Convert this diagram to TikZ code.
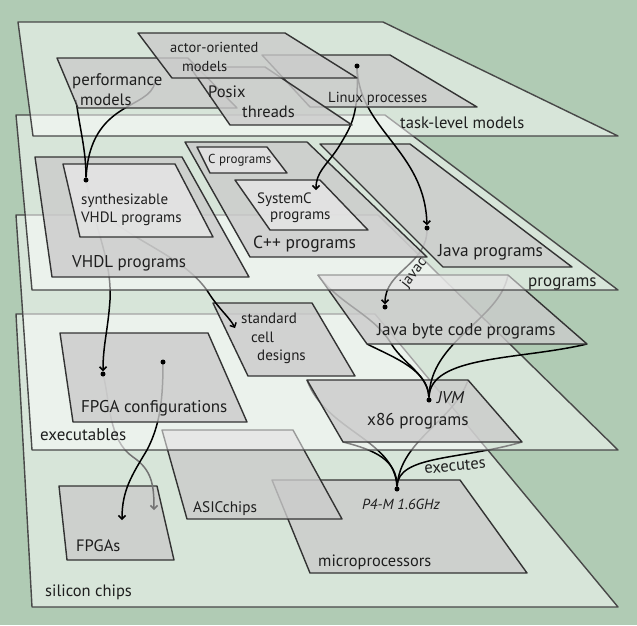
\documentclass[tikz,border=0pt]{standalone}
\usepackage{fontspec}
\setmainfont{PT Sans}
\usetikzlibrary{arrows.meta}
\definecolor{bgc}{HTML}{B0CBB4}
\definecolor{planeline}{HTML}{484848}
\definecolor{itemline}{HTML}{333333}
\definecolor{itemgray}{HTML}{CBCBCB}
\definecolor{subgray}{HTML}{E6E6E6}
\definecolor{txt}{HTML}{1E1E1E}
\newcommand\fsz[1]{\fontsize{#1}{#1}\selectfont}
\begin{document}
\begin{tikzpicture}[x=1pt,y=-1pt,
 plane/.style={fill=white,fill opacity=0.5,draw=planeline,line width=1.4pt,line join=round},
 item/.style={fill=itemgray,fill opacity=0.8,draw=itemline,line width=1.4pt,line join=round},
 subitem/.style={item,fill=subgray},
 conn/.style={line width=1.5pt,draw=black},
 arr/.style={-{Straight Barb[length=3.5pt,width=7pt]}},
 dot/.style={circle,fill=black,inner sep=0pt,minimum size=5pt},
 lbl/.style={anchor=base west,inner sep=0pt,text=txt},
]
\fill[bgc] (0,0) rectangle (637,625);
\useasboundingbox (0,0) rectangle (637,625);

% ---------- silicon chips layer
\draw[plane] (16,314) -- (375,314) -- (618,607) -- (32,607) -- cycle;
\draw[item] (59,486) -- (157,486) -- (174,560) -- (67,560) -- cycle;
\draw[item] (272,480) -- (460,480) -- (527,573) -- (310,573) -- cycle;
\draw[item] (162,430) -- (293,430) -- (342,519) -- (187,519) -- cycle;
\coordinate (fpgaA) at (122,520);
\coordinate (fpgaB) at (154,510);
\coordinate (F1c) at (103,374);
\coordinate (D2c) at (163,362);
\coordinate (xTL) at (307,380);
\coordinate (xTR) at (468,380);
\coordinate (xBR) at (522,442);
\coordinate (xBL) at (343,442);
\draw[conn,draw=black!55,arr] (F1c) .. controls (110,400) and (108,440) .. (133,457) .. controls (152,470) and (154,485) .. (fpgaB);
\node[dot] (P) at (397,489) {};
\draw[conn] (xTL) .. controls (325,430) and (395,440) .. (P);
\draw[conn] (xBL) .. controls (375,450) and (397,460) .. (P);
\draw[conn] (xTR) .. controls (455,420) and (400,440) .. (P);
\draw[conn] (xBR) .. controls (460,460) and (398,455) .. (P);

% ---------- executables layer
\draw[plane] (16,215) -- (378,215) -- (618,450) -- (32,450) -- cycle;
\draw[conn,arr] (D2c) .. controls (163,400) and (160,425) .. (147,450) .. controls (132,475) and (122,490) .. (fpgaA);
\draw[item] (60,333) -- (208,333) -- (247,422) -- (73,422) -- cycle;
\draw[item] (213,303) -- (312,303) -- (355,376) -- (248,376) -- cycle;
\draw[item] (xTL) -- (xTR) -- (xBR) -- (xBL) -- cycle;
\coordinate (jTL) at (318,275);
\coordinate (jTR) at (508,275);
\coordinate (jBR) at (587,344);
\coordinate (jBL) at (367,344);
\node[dot] (J) at (429,400) {};
\draw[conn] (jBL) .. controls (395,358) and (428,370) .. (J);
\draw[conn] (jTL) .. controls (340,305) and (375,315) .. (392,345) .. controls (405,365) and (428,375) .. (J);
\draw[conn] (jTR) .. controls (500,320) and (430,340) .. (J);
\draw[conn] (jBR) .. controls (520,360) and (430,355) .. (J);
\draw[item] (jTL) -- (jTR) -- (jBR) -- (jBL) -- cycle;
\coordinate (Vc) at (86,180);
\coordinate (SCa) at (235,328);
\coordinate (Jpc) at (427,228);
\node[dot] (F1) at (F1c) {};
\node[dot] (D2) at (D2c) {};
\node[dot] (JB) at (385,307) {};
\draw[conn,arr] (Vc) .. controls (95,230) and (112,260) .. (110,300) .. controls (108,330) and (103,345) .. (F1);
\draw[conn,arr] (Vc) .. controls (95,235) and (180,245) .. (210,295) .. controls (220,310) and (230,318) .. (SCa);
\draw[conn,arr] (Jpc) .. controls (428,265) and (385,270) .. (JB);

% ---------- programs layer
\draw[plane] (16,115) -- (385,115) -- (618,290) -- (32,290) -- cycle;
\draw[item] (35,157) -- (182,157) -- (249,277) -- (52,277) -- cycle;
\draw[subitem] (63,164) -- (175,164) -- (213,237) -- (80,237) -- cycle;
\draw[item] (185,142) -- (307,142) -- (427,257) -- (250,257) -- cycle;
\draw[subitem] (197,147) -- (267,147) -- (287,173) -- (210,173) -- cycle;
\draw[subitem] (235,180) -- (320,180) -- (368,230) -- (270,230) -- cycle;
\draw[item] (320,144) -- (410,144) -- (572,267) -- (443,267) -- cycle;

% ---------- task-level layer
\draw[plane] (18,22) -- (383,22) -- (618,136) -- (33,136) -- cycle;
\node[dot] (V) at (Vc) {};
\coordinate (pA) at (155,82);
\coordinate (pB) at (76,100);
\draw[conn] (pA) .. controls (150,110) and (90,100) .. (V);
\draw[conn] (pB) .. controls (80,130) and (86,150) .. (V);
\coordinate (Lc) at (357,66);
\coordinate (SYa) at (316,190);
\node[dot] (Jp) at (Jpc) {};
\draw[conn,arr] (Lc) .. controls (359,115) and (352,125) .. (338,148) .. controls (326,166) and (316,172) .. (SYa);
\draw[conn,arr] (Lc) .. controls (358,130) and (425,150) .. (Jp);
\draw[item] (57,58) -- (188,58) -- (237,108) -- (78,108) -- cycle;
\draw[item] (262,55) -- (390,55) -- (477,107) -- (310,107) -- cycle;
\draw[item] (190,67) -- (265,67) -- (352,125) -- (230,125) -- cycle;
\draw[item] (138,33) -- (285,33) -- (357,78) -- (172,78) -- cycle;
\node[dot] (L) at (Lc) {};

% ---------- labels
\node[lbl,font=\fsz{14.5}] (tAO1) at (170,52) {actor-oriented};
\node[lbl,font=\fsz{14.5}] (tAO2) at (182,71) {models};
\node[lbl,font=\fsz{16.8}] (tPM1) at (72,85) {performance};
\node[lbl,font=\fsz{16.5}] (tPM2) at (80,105) {models};
\node[lbl,font=\fsz{16.5}] (tPX1) at (208,97) {Posix};
\node[lbl,font=\fsz{16.5}] (tPX2) at (242,117) {threads};
\node[lbl,font=\fsz{14.6}] (tLX) at (328,102) {Linux processes};
\node[lbl,font=\fsz{16.6}] (tTL) at (400,128) {task-level models};
\node[lbl,font=\fsz{13}] (tC) at (208,163) {C programs};
\node[lbl,font=\fsz{15}] (tSC1) at (257,203) {SystemC};
\node[lbl,font=\fsz{15}] (tSC2) at (270,219) {programs};
\node[lbl,font=\fsz{17.5}] (tCPP) at (253,248) {C++ programs};
\node[lbl,font=\fsz{15}] (tSV1) at (81,204) {synthesizable};
\node[lbl,font=\fsz{15}] (tSV2) at (81,222) {VHDL programs};
\node[lbl,font=\fsz{17}] (tVH) at (72,267) {VHDL programs};
\node[lbl,font=\fsz{17.3}] (tJP) at (438,256) {Java programs};
\node[lbl,font=\fsz{17}] (tPG) at (528,286) {programs};
\node[lbl,font=\fsz{15}] (tSD1) at (241,323) {standard};
\node[lbl,font=\fsz{15}] (tSD2) at (251,342) {cell};
\node[lbl,font=\fsz{15}] (tSD3) at (257,360) {designs};
\node[lbl,font=\fsz{17.1}] (tJB) at (377,335) {Java byte code programs};
\node[lbl,font=\fsz{17}] (tFC) at (81,412) {FPGA configurations};
\node[lbl,font=\fsz{17}] (tEX) at (40,440) {executables};
\node[lbl,font=\fsz{17.2}] (tX86) at (367,425) {x86 programs};
\node[lbl,font=\fsz{17}\itshape] (tJVM) at (437,403) {JVM};
\node[lbl,font=\fsz{15.3}] (tAS) at (193,512) {ASICchips};
\node[lbl,font=\fsz{16.5}] (tFP) at (76,551) {FPGAs};
\node[lbl,font=\fsz{16.5}] (tSI) at (45,596) {silicon chips};
\node[lbl,font=\fsz{16.4}] (tMP) at (318,566) {microprocessors};
\node[lbl,font=\fsz{14.6}\itshape] (tP4) at (362,509) {P4-M 1.6GHz};
\node[lbl,font=\fsz{16.5},anchor=center,rotate=5] (tEXE) at (455,466) {executes};
\node[lbl,font=\fsz{15},anchor=center,rotate=52] (tJV) at (414,273) {javac};
\end{tikzpicture}
\end{document}
